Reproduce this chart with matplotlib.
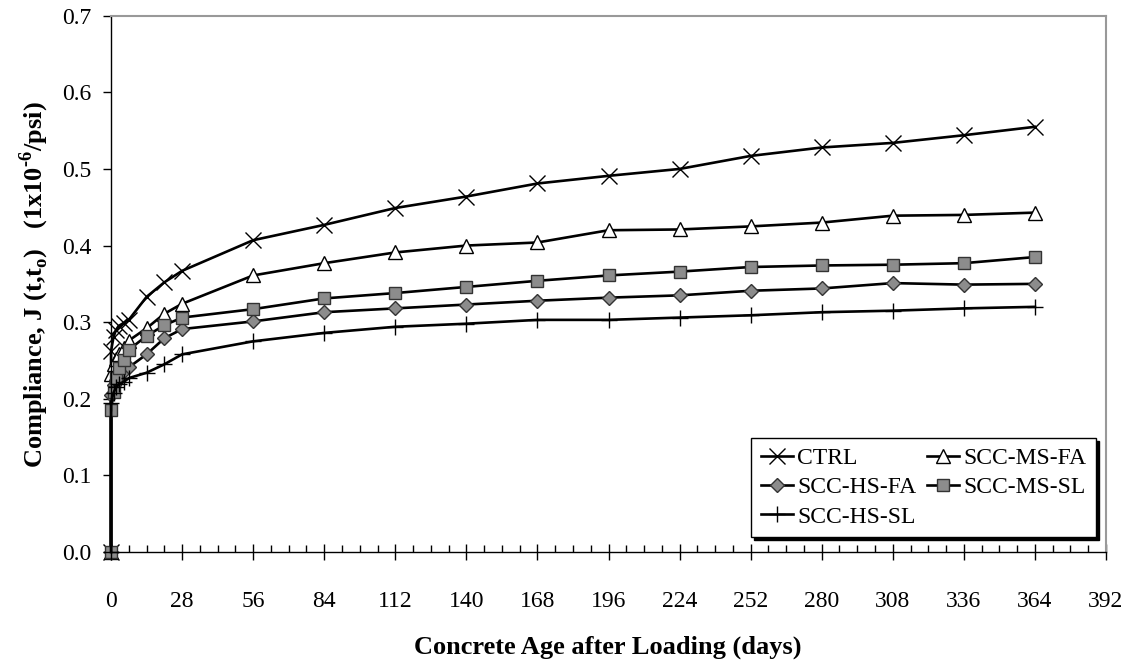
import matplotlib
matplotlib.use('Agg')
import matplotlib.pyplot as plt
from matplotlib.ticker import MultipleLocator, FormatStrFormatter

plt.rcParams['font.family'] = ['Liberation Serif', 'DejaVu Serif']
plt.rcParams['mathtext.fontset'] = 'custom'
plt.rcParams['mathtext.rm'] = 'Liberation Serif:bold'
plt.rcParams['mathtext.bf'] = 'Liberation Serif:bold'

# days after loading (first two points: before / at loading)
days = [0, 0, 1, 2, 3, 5, 7, 14, 21, 28, 56, 84, 112, 140, 168, 196, 224,
        252, 280, 308, 336, 364]

# compliance J(t,to), 1e-6/psi
ctrl = [0, 0.262, 0.281, 0.290, 0.295, 0.299, 0.303, 0.333, 0.352, 0.367,
        0.407, 0.427, 0.449, 0.464, 0.481, 0.491, 0.500, 0.517, 0.528, 0.534,
        0.544, 0.555]
ms_fa = [0, 0.232, 0.245, 0.252, 0.258, 0.266, 0.276, 0.292, 0.311, 0.324,
         0.361, 0.377, 0.391, 0.400, 0.404, 0.420, 0.421, 0.425, 0.430, 0.439,
         0.440, 0.443]
hs_fa = [0, 0.205, 0.218, 0.225, 0.230, 0.236, 0.241, 0.258, 0.279, 0.291,
         0.301, 0.313, 0.318, 0.323, 0.328, 0.332, 0.335, 0.341, 0.344, 0.351,
         0.349, 0.350]
ms_sl = [0, 0.185, 0.209, 0.227, 0.240, 0.251, 0.264, 0.282, 0.296, 0.306,
         0.317, 0.331, 0.338, 0.346, 0.354, 0.361, 0.366, 0.372, 0.374, 0.375,
         0.377, 0.385]
hs_sl = [0, 0.195, 0.208, 0.215, 0.219, 0.222, 0.227, 0.234, 0.245, 0.258,
         0.275, 0.286, 0.294, 0.298, 0.303, 0.303, 0.306, 0.309, 0.313, 0.315,
         0.318, 0.320]

fig = plt.figure(figsize=(11.34, 6.63), dpi=100)
ax = fig.add_axes([0.0979, 0.1674, 0.8774, 0.8089])

lw = 1.9
h_ctrl, = ax.plot(days, ctrl, color='black', lw=lw, marker='x', ms=11,
                  mew=1.0, mec='black', label='CTRL', clip_on=False)
h_msfa, = ax.plot(days, ms_fa, color='black', lw=lw, marker='^', ms=10,
                  mew=1.0, mfc='white', mec='black', label='SCC-MS-FA',
                  clip_on=False)
h_hsfa, = ax.plot(days, hs_fa, color='black', lw=lw, marker='D', ms=7,
                  mew=1.0, mfc='#8c8c8c', mec='#333333', label='SCC-HS-FA',
                  clip_on=False)
h_mssl, = ax.plot(days, ms_sl, color='black', lw=lw, marker='s', ms=8.5,
                  mew=1.0, mfc='#8c8c8c', mec='#333333', label='SCC-MS-SL',
                  clip_on=False)
h_hssl, = ax.plot(days, hs_sl, color='black', lw=lw, marker='+', ms=12,
                  mew=1.0, mec='black', label='SCC-HS-SL', clip_on=False)

ax.set_xlim(0, 392)
ax.set_ylim(0, 0.7)
ax.xaxis.set_major_locator(MultipleLocator(28))
ax.xaxis.set_minor_locator(MultipleLocator(7))
ax.yaxis.set_major_locator(MultipleLocator(0.1))
ax.yaxis.set_major_formatter(FormatStrFormatter('%.1f'))

for s in ['top', 'right']:
    ax.spines[s].set_color('#999999')
    ax.spines[s].set_linewidth(1.5)
for s in ['left', 'bottom']:
    ax.spines[s].set_color('black')
    ax.spines[s].set_linewidth(1.0)

ax.tick_params(axis='x', which='major', direction='inout', length=12,
               width=1, labelsize=17, pad=22)
ax.tick_params(axis='x', which='minor', direction='in', length=5, width=1)
ax.tick_params(axis='y', which='major', direction='out', length=6,
               width=1, labelsize=17, pad=8)

fig.text(0.536, 0.024, 'Concrete Age after Loading (days)', ha='center',
         va='center', fontsize=19, fontweight='bold')
fig.text(0.030, 0.571,
         r'Compliance, J (t,t$_{\mathrm{o}}$)   (1x10$^{\text{-6}}$/psi)',
         ha='center', va='center', rotation=90, fontsize=19,
         fontweight='bold')

handles = [h_ctrl, h_hsfa, h_hssl, h_msfa, h_mssl]
leg = ax.legend(handles=handles, labels=[h.get_label() for h in handles],
                ncol=2, loc='lower right', bbox_to_anchor=(0.99, 0.028),
                borderaxespad=0, fontsize=17, frameon=True, fancybox=False,
                shadow={'color': 'black', 'alpha': 1.0}, handlelength=1.35,
                handletextpad=0.2, columnspacing=0.45, labelspacing=0.32,
                borderpad=0.4)
leg.get_frame().set_edgecolor('black')
leg.get_frame().set_linewidth(1.0)

fig.savefig('out.png', dpi=100)
